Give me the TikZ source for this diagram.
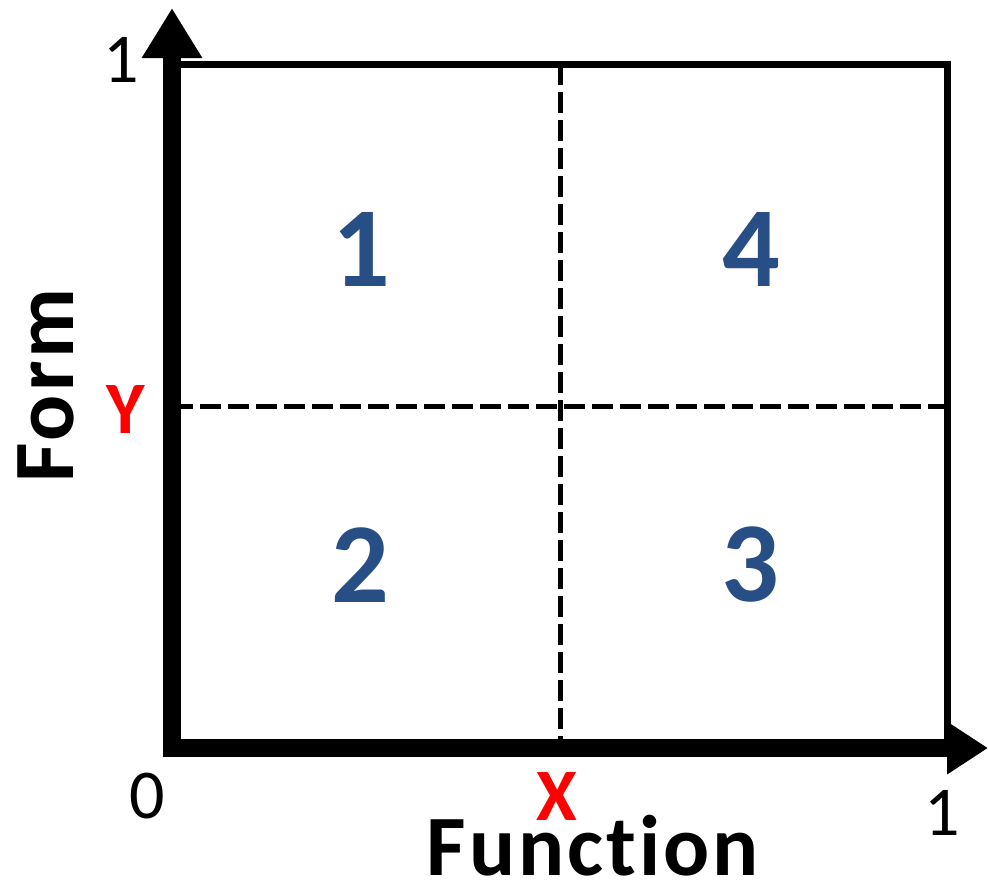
\documentclass[tikz,border=0pt]{standalone}
\usepackage{fontspec}
\setmainfont{Carlito}[Ligatures=NoCommon]
\usetikzlibrary{arrows.meta}
\definecolor{qblue}{RGB}{40,78,134}
\definecolor{qred}{RGB}{255,0,0}
\tikzset{
  axisline/.style={line width=9pt},
  boxline/.style={line width=3.5pt},
  divline/.style={line width=2.5pt, dash pattern=on 10.5pt off 3.5pt},
  quadnum/.style={font=\fontsize{57}{57}\selectfont\bfseries, text=qblue, inner sep=0pt, anchor=base},
  ticklabel/.style={font=\fontsize{35}{35}\selectfont, inner sep=0pt, anchor=base},
  redlabel/.style={font=\fontsize{37}{37}\selectfont\bfseries, text=qred, inner sep=0pt, anchor=base},
  axislabel/.style={font=\fontsize{43}{43}\selectfont\bfseries\addfontfeature{LetterSpace=3.5}, inner sep=0pt}
}
\begin{document}
\begin{tikzpicture}[x=0.5pt,y=-0.5pt]
\useasboundingbox (0,0) rectangle (988,880);
% corners
\coordinate (O) at (172,748);
\coordinate (TL) at (172,64);
\coordinate (TR) at (947,64);
\coordinate (BR) at (947,748);
\coordinate (xm) at (560,64);
\coordinate (xb) at (560,748);
\coordinate (yl) at (172,406);
\coordinate (yr) at (947,406);
\coordinate (ytip) at (172,8);
\coordinate (ybase) at (172,757);
\coordinate (xtip) at (988,748);
\coordinate (xbase) at (163,748);
% dashed dividers
\draw[divline] (xm) -- (xb);
\draw[divline] (yl) -- (yr);
% box
\draw[boxline] (TL) -- (TR) -- (BR);
% axes
\draw[axisline, -{Triangle[length=25pt,width=28.5pt]}] (ybase) -- (ytip);
\draw[axisline, -{Triangle[length=20.5pt,width=25pt]}] (xbase) -- (xtip);
% quadrant numbers
\node[quadnum] (q1) at (361,286) {1};
\node[quadnum] (q4) at (751,286) {4};
\node[quadnum] (q2) at (360,602) {2};
\node[quadnum] (q3) at (750,601) {3};
% tick labels
\node[ticklabel] (t1y) at (121,82) {1};
\node[ticklabel] (t0) at (147,818) {0};
\node[ticklabel] (t1x) at (942,835) {1};
\node[redlabel] (ly) at (126,433) {Y};
\node[redlabel] (lx) at (557,820) {X};
\node[axislabel, anchor=base] (fn) at (593,875) {Function};
\node[axislabel, rotate=90, anchor=base west] (fm) at (73,483) {Form};
\end{tikzpicture}
\end{document}
